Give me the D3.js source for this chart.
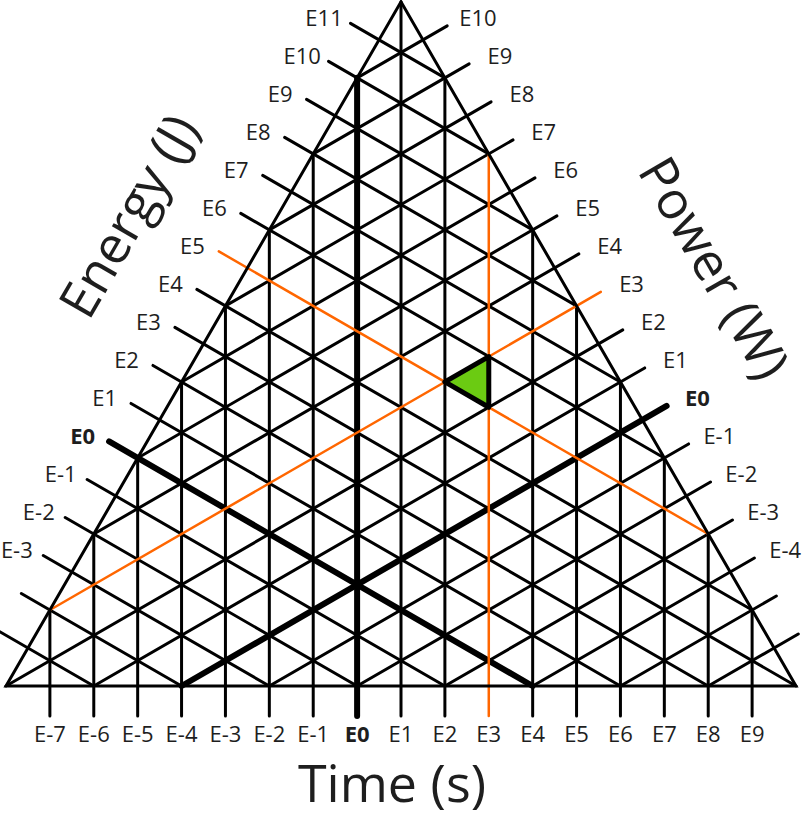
<!DOCTYPE html>
<html>
<head>
<meta charset="utf-8">
<script src="https://cdn.jsdelivr.net/npm/d3@7"></script>
<style>
  body { margin: 0; background: #fff; }
  text { font-family: "Open Sans", sans-serif; fill: #1e1e1e; }
</style>
</head>
<body>
<div id="chart"></div>
<script>
var width = 803
var height = 815

// exponents of each family of grid lines (powers of ten)
var timeTicks = [-7, -6, -5, -4, -3, -2, -1, 0, 1, 2, 3, 4, 5, 6, 7, 8, 9]
var energyTicks = [-5, -4, -3, -2, -1, 0, 1, 2, 3, 4, 5, 6, 7, 8, 9, 10, 11]
var powerTicks = [-6, -5, -4, -3, -2, -1, 0, 1, 2, 3, 4, 5, 6, 7, 8, 9, 10]
var energyLabels = [-3, -2, -1, 0, 1, 2, 3, 4, 5, 6, 7, 8, 9, 10, 11]
var powerLabels = [-4, -3, -2, -1, 0, 1, 2, 3, 4, 5, 6, 7, 8, 9, 10]

// the example: 1E5 J = 1E3 W x 1E2 s, highlighted lines
var hlTime = 3
var hlEnergy = 5
var hlPower = 3
var cell = [{t: 2, e: 5}, {t: 3, e: 5}, {t: 3, e: 6}]

var s3 = Math.sqrt(3)
var BL = [6, 686], BR = [796, 686]
var side = BR[0] - BL[0]

var xScale = d3.scaleLinear().domain([-8, 10]).range([BL[0], BR[0]])
var eScale = d3.scaleLinear().domain([-6, 12]).range([0, side]) // along left side from BL
var pScale = d3.scaleLinear().domain([-7, 11]).range([0, side]) // along right side from BR

var svg = d3.select('#chart').append('svg')
  .attr('width', width)
  .attr('height', height)

function onLeft(d) { return [BL[0] + d / 2, BL[1] - d * s3 / 2] }
function onRight(d) { return [BR[0] - d / 2, BR[1] - d * s3 / 2] }

function timeLine(t) {
  var x = xScale(t)
  var d = x - BL[0]
  var top = d <= side / 2 ? BL[1] - d * s3 : BL[1] - (side - d) * s3
  return [[x, BL[1] + 30], [x, top]]
}

function energyLine(e) {
  var d = eScale(e)
  var p = onLeft(d)
  var start = [p[0] - 33 * s3 / 2, p[1] - 33 / 2]
  var end = d <= side / 2 ? [BL[0] + 2 * d, BL[1]] : onRight(2 * (d - side / 2))
  return [start, end]
}

function powerLine(pw) {
  var d = pScale(pw)
  var p = onRight(d)
  var start = [p[0] + 28 * s3 / 2, p[1] - 28 / 2]
  var end = d <= side / 2 ? [BR[0] - 2 * d, BR[1]] : onLeft(2 * (d - side / 2))
  return [start, end]
}

function cellPoint(c) {
  var x = xScale(c.t)
  var sb = x - BL[0]
  var h = (eScale(c.e) - sb / 2) / (s3 / 2)
  return [x, BL[1] - h]
}

var lineGen = d3.line()

function styleOf(v, hl) {
  if (v === hl) return {stroke: '#ff6600', w: 2.5}
  if (v === 0) return {stroke: '#000', w: 6}
  return {stroke: '#000', w: 3}
}

var grid = svg.append('g').attr('stroke-linecap', 'round').attr('fill', 'none')

function drawFamily(ticks, fn, hl, cls) {
  var black = ticks.filter(function(v) { return v !== hl })
  grid.selectAll('.' + cls).data(black).enter().append('path')
    .attr('class', cls)
    .attr('d', function(v) { return lineGen(fn(v)) })
    .attr('stroke', function(v) { return styleOf(v, hl).stroke })
    .attr('stroke-width', function(v) { return styleOf(v, hl).w })
}

drawFamily(timeTicks, timeLine, hlTime, 'tline')
drawFamily(energyTicks, energyLine, hlEnergy, 'eline')
drawFamily(powerTicks, powerLine, hlPower, 'pline')

// orange ones on top
grid.selectAll('.hl').data([timeLine(hlTime), energyLine(hlEnergy), powerLine(hlPower)]).enter()
  .append('path').attr('class', 'hl')
  .attr('d', lineGen)
  .attr('stroke', '#ff6600')
  .attr('stroke-width', 2.5)

// triangle outline
svg.append('path')
  .attr('d', lineGen([BL, BR, [(BL[0] + BR[0]) / 2, BL[1] - side * s3 / 2]]) + 'Z')
  .attr('fill', 'none')
  .attr('stroke', '#000')
  .attr('stroke-width', 3)
  .attr('stroke-linejoin', 'miter')

// highlighted cell
svg.append('path')
  .attr('d', lineGen(cell.map(cellPoint)) + 'Z')
  .attr('fill', '#6bcb12')
  .attr('stroke', '#000')
  .attr('stroke-width', 5)
  .attr('stroke-linejoin', 'round')

function lab(v) { return 'E' + v }

// time labels
svg.selectAll('.tlab').data(timeTicks).enter().append('text')
  .attr('class', 'tlab')
  .attr('x', function(v) { return xScale(v) })
  .attr('y', 742)
  .attr('text-anchor', 'middle')
  .attr('font-size', 22)
  .attr('font-weight', function(v) { return v === 0 ? 'bold' : 'normal' })
  .text(lab)

// energy labels
svg.selectAll('.elab').data(energyLabels).enter().append('text')
  .attr('class', 'elab')
  .attr('x', function(v) { return onLeft(eScale(v))[0] - 55 })
  .attr('y', function(v) { return onLeft(eScale(v))[1] - 22 })
  .attr('dy', '0.35em')
  .attr('text-anchor', 'middle')
  .attr('font-size', 22)
  .attr('font-weight', function(v) { return v === 0 ? 'bold' : 'normal' })
  .text(lab)

// power labels
svg.selectAll('.plab').data(powerLabels).enter().append('text')
  .attr('class', 'plab')
  .attr('x', function(v) { return onRight(pScale(v))[0] + 55 })
  .attr('y', function(v) { return onRight(pScale(v))[1] - 22 })
  .attr('dy', '0.35em')
  .attr('text-anchor', 'middle')
  .attr('font-size', 22)
  .attr('font-weight', function(v) { return v === 0 ? 'bold' : 'normal' })
  .text(lab)

// axis titles
svg.append('text')
  .attr('x', 392).attr('y', 802)
  .attr('text-anchor', 'middle')
  .attr('font-size', 52)
  .text('Time (s)')

svg.append('text')
  .attr('transform', 'translate(129,216) rotate(-60)')
  .attr('text-anchor', 'middle')
  .attr('dy', '0.35em')
  .attr('font-size', 52)
  .text('Energy (J)')

svg.append('text')
  .attr('transform', 'translate(714,268) rotate(60)')
  .attr('text-anchor', 'middle')
  .attr('dy', '0.35em')
  .attr('font-size', 52)
  .text('Power (W)')
</script>
</body>
</html>
